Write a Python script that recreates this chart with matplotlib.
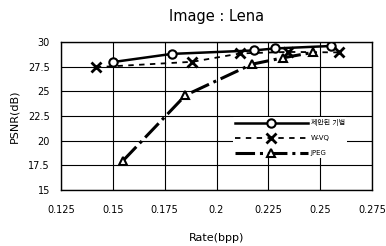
import matplotlib
matplotlib.use("Agg")
import matplotlib.pyplot as plt

plt.rcParams['font.family'] = ['DejaVu Sans', 'Noto Sans CJK KR']

prop_x = [0.150, 0.1784, 0.218, 0.228, 0.255]
prop_y = [27.97, 28.8, 29.15, 29.35, 29.6]
wvq_x = [0.1418, 0.1884, 0.2115, 0.2346, 0.259]
wvq_y = [27.45, 28.0, 28.85, 29.0, 28.95]
jpeg_x = [0.1548, 0.185, 0.217, 0.232, 0.2465]
jpeg_y = [17.94, 24.6, 27.75, 28.4, 28.95]
labels = ['제안된 기법', 'W-VQ', 'JPEG']
xticks = [0.125, 0.15, 0.175, 0.2, 0.225, 0.25, 0.275]
yticks = [15, 17.5, 20, 22.5, 25, 27.5, 30]

fig = plt.figure(figsize=(3.86, 2.46), dpi=100)
ax = fig.add_axes([0.158, 0.228, 0.806, 0.601])

ax.plot(prop_x, prop_y, '-', color='black', lw=1.8, marker='o', ms=6,
        mfc='white', mec='black', mew=1.5, label=labels[0], zorder=3)
ax.plot(wvq_x, wvq_y, '--', color='black', lw=1.3, dashes=(3, 3), marker='x', ms=7,
        mew=2, label=labels[1], zorder=3)
ax.plot(jpeg_x, jpeg_y, '-.', color='black', lw=2.2, marker='^', ms=6,
        mfc='white', mec='black', mew=1.5, label=labels[2], zorder=3)

ax.set_xlim(0.125, 0.275)
ax.set_ylim(15, 30)
ax.set_xticks(xticks)
ax.set_xticklabels([f"{t:g}" for t in xticks])
ax.set_yticks(yticks)
ax.set_yticklabels([f"{t:g}" for t in yticks])
ax.grid(True, color='black', lw=0.8)
ax.tick_params(axis='x', length=0, labelsize=7, pad=11)
ax.tick_params(axis='y', length=0, labelsize=7, pad=8)
for s in ax.spines.values():
    s.set_color('black')
    s.set_linewidth(1)

ax.set_title('Image : Lena', fontsize=10.5, pad=15)
ax.set_xlabel('Rate(bpp)', fontsize=8, labelpad=13)
ax.set_ylabel('PSNR(dB)', fontsize=8, labelpad=6)

leg = ax.legend(loc='lower right', bbox_to_anchor=(0.93, 0.19), fontsize=5,
                frameon=True, framealpha=1, edgecolor='white', handlelength=10.5,
                borderpad=0.3, labelspacing=1.3, handletextpad=0.4)
leg.get_frame().set_linewidth(0)

fig.savefig('out.png', dpi=100, facecolor='white')
